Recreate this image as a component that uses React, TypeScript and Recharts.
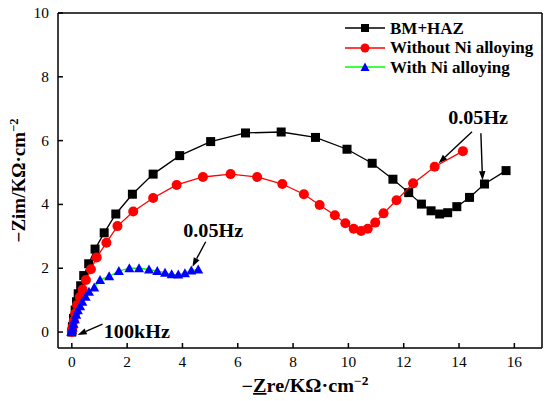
import React from 'react';
import { ScatterChart, Scatter, XAxis, YAxis, Legend, ReferenceLine, ReferenceDot, Label } from 'recharts';

if (typeof document !== 'undefined') document.body.style.margin = '0';

const FONT = '"Liberation Serif", "Times New Roman", serif';

const seriesNames = ['BM+HAZ', 'Without Ni alloying', 'With Ni alloying'];

const bmZre = [0, 0.02, 0.06, 0.12, 0.17, 0.23, 0.32, 0.43, 0.61, 0.84, 1.17, 1.59, 2.19, 2.94, 3.90, 5.02, 6.28, 7.57, 8.81, 9.95, 10.86, 11.61, 12.18, 12.64, 12.99, 13.30, 13.59, 13.92, 14.38, 14.92, 15.70];
const bmZim = [0, 0.17, 0.43, 0.69, 0.95, 1.20, 1.45, 1.77, 2.14, 2.60, 3.11, 3.70, 4.32, 4.95, 5.53, 5.97, 6.24, 6.27, 6.10, 5.73, 5.29, 4.79, 4.37, 4.01, 3.80, 3.70, 3.74, 3.93, 4.22, 4.64, 5.06];

const woZre = [0, 0.03, 0.07, 0.12, 0.19, 0.29, 0.39, 0.51, 0.69, 0.90, 1.25, 1.65, 2.22, 2.94, 3.79, 4.74, 5.74, 6.70, 7.61, 8.39, 8.96, 9.51, 9.89, 10.19, 10.46, 10.70, 10.97, 11.27, 11.74, 12.34, 13.12, 14.14];
const woZim = [0, 0.15, 0.35, 0.58, 0.85, 1.10, 1.33, 1.63, 1.97, 2.34, 2.80, 3.32, 3.78, 4.20, 4.61, 4.86, 4.95, 4.86, 4.64, 4.32, 3.98, 3.66, 3.41, 3.24, 3.17, 3.24, 3.43, 3.72, 4.13, 4.66, 5.18, 5.67];

const niZre = [-0.02, 0.01, 0.03, 0.06, 0.11, 0.16, 0.22, 0.30, 0.38, 0.50, 0.62, 0.81, 1.02, 1.35, 1.70, 2.08, 2.43, 2.79, 3.09, 3.37, 3.61, 3.85, 4.09, 4.32, 4.57];
const niZim = [0, 0.06, 0.14, 0.26, 0.40, 0.54, 0.68, 0.81, 0.95, 1.11, 1.26, 1.40, 1.63, 1.75, 1.91, 2.00, 2.00, 1.96, 1.91, 1.86, 1.81, 1.80, 1.84, 1.93, 1.96];

const xTicks = [0, 2, 4, 6, 8, 10, 12, 14, 16];
const yTicks = [0, 2, 4, 6, 8, 10];

// annotations: [text, textX, textY]
const annotationTexts: [string, number, number][] = [
  ['0.05Hz', 14.69, 6.71],
  ['0.05Hz', 5.11, 3.18],
  ['100kHz', 2.35, 0.0],
];
// arrows: [fromX, fromY, toX, toY]
const arrows: [number, number, number, number][] = [
  [14.47, 6.28, 13.26, 5.29],
  [14.79, 6.23, 14.85, 4.76],
  [4.84, 2.83, 4.36, 2.05],
  [1.11, 0.25, 0.21, -0.09],
];

const toPts = (xs: number[], ys: number[]) => xs.map((x, i) => ({ x, y: ys[i] }));
const bmData = toPts(bmZre, bmZim);
const woData = toPts(woZre, woZim);
const niData = toPts(niZre, niZim);

const SX = 1.12;
const scaleAbout = (x: number, s: number) => `translate(${x},0) scale(${s},1) translate(${-x},0)`;

const Square = (p: any) => <rect x={p.cx - 4.5} y={p.cy - 4.5} width={9} height={9} fill="#000" />;
const Circle = (p: any) => <circle cx={p.cx} cy={p.cy} r={5} fill="#ff0000" />;
const Tri = (p: any) => (
  <polygon points={`${p.cx},${p.cy - 5} ${p.cx - 5},${p.cy + 4} ${p.cx + 5},${p.cy + 4}`} fill="#0000ff" />
);

const Arrow = (p: any) => {
  const { x1, y1, x2, y2 } = p;
  const ang = Math.atan2(y2 - y1, x2 - x1);
  const L = 9, W = 3.2;
  const bx = x2 - L * Math.cos(ang);
  const by = y2 - L * Math.sin(ang);
  const px = -Math.sin(ang) * W;
  const py = Math.cos(ang) * W;
  return (
    <g>
      <line x1={x1} y1={y1} x2={bx} y2={by} stroke="#000" strokeWidth={1.4} />
      <polygon points={`${x2},${y2} ${bx + px},${by + py} ${bx - px},${by - py}`} fill="#000" />
    </g>
  );
};

const legendColors = [
  { line: '#000', marker: 'square' },
  { line: '#ff0000', marker: 'circle' },
  { line: '#00ff00', marker: 'triangle' },
];

const LegendContent = () => (
  <div style={{ fontFamily: FONT, fontWeight: 'bold', fontSize: 17, color: '#000', lineHeight: '19.5px' }}>
    {seriesNames.map((name, i) => (
      <div key={name} style={{ display: 'flex', alignItems: 'center', height: 19.5 }}>
        <svg width={40} height={12} style={{ display: 'block' }}>
          <line x1={0} y1={6} x2={40} y2={6} stroke={legendColors[i].line} strokeWidth={1.4} />
          {legendColors[i].marker === 'square' && <rect x={16} y={2} width={8} height={8} fill="#000" />}
          {legendColors[i].marker === 'circle' && <circle cx={20} cy={6} r={4.5} fill="#ff0000" />}
          {legendColors[i].marker === 'triangle' && <polygon points="20,1.5 15.5,10 24.5,10" fill="#0000ff" />}
        </svg>
        <span style={{ marginLeft: 5, whiteSpace: 'nowrap' }}>{name}</span>
      </div>
    ))}
  </div>
);

const XLabel = (p: any) => {
  const vb = p.viewBox;
  const cx = vb.x + vb.width / 2 + 5;
  return (
    <g transform={scaleAbout(cx, SX)}>
      <text x={cx} y={392} textAnchor="middle" fontFamily={FONT} fontWeight="bold" fontSize={18} fill="#000">
        <tspan>−</tspan>
        <tspan textDecoration="underline">Z</tspan>
        <tspan>re/KΩ·cm</tspan>
        <tspan dy={-7} fontSize={12}>−2</tspan>
      </text>
    </g>
  );
};

const YLabel = (p: any) => {
  const vb = p.viewBox;
  const cy = vb.y + vb.height / 2;
  return (
    <text x={25} y={cy} transform={`rotate(-90, 25, ${cy})`} textAnchor="middle" fontFamily={FONT} fontWeight="bold" fontSize={19} fill="#000">
      <tspan>−Zim/KΩ·cm</tspan>
      <tspan dy={-7} fontSize={12.5}>−2</tspan>
    </text>
  );
};

const XTick = (p: any) => (
  <g transform={`translate(${p.x},${p.y}) scale(1.1,1)`}>
    <text x={0} y={0} dy="0.71em" textAnchor="middle" fontFamily={FONT} fontSize={14} fill="#000">
      {p.payload.value}
    </text>
  </g>
);

const YTick = (p: any) => (
  <g transform={`translate(${p.x},${p.y}) scale(1.1,1)`}>
    <text x={0} y={0} dy="0.355em" textAnchor="end" fontFamily={FONT} fontSize={14} fill="#000">
      {p.payload.value}
    </text>
  </g>
);

export default function App() {
  return (
    <div style={{ width: 550, height: 401, background: '#fff' }}>
      <ScatterChart width={550} height={401} margin={{ top: 13, right: 8, left: 0, bottom: 0 }}>
        <XAxis
          type="number"
          dataKey="x"
          domain={[-0.5, 17]}
          ticks={xTicks}
          allowDataOverflow
          height={53}
          tick={<XTick />}
          tickSize={-5}
          tickMargin={14}
          axisLine={{ stroke: '#000', strokeWidth: 1.5 }}
          tickLine={{ stroke: '#000', strokeWidth: 1.5 }}
        >
          <Label content={<XLabel />} />
        </XAxis>
        <YAxis
          type="number"
          dataKey="y"
          domain={[-0.5, 10]}
          ticks={yTicks}
          allowDataOverflow
          width={58}
          tick={<YTick />}
          tickSize={-5}
          tickMargin={14}
          axisLine={{ stroke: '#000', strokeWidth: 1.5 }}
          tickLine={{ stroke: '#000', strokeWidth: 1.5 }}
        >
          <Label content={<YLabel />} />
        </YAxis>
        <ReferenceLine y={10} stroke="#000" strokeWidth={1.5} />
        <ReferenceLine x={17} stroke="#000" strokeWidth={1.5} />
        <Scatter name={seriesNames[0]} data={bmData} line={{ stroke: '#000', strokeWidth: 1.3 }} shape={<Square />} isAnimationActive={false} />
        <Scatter name={seriesNames[1]} data={woData} line={{ stroke: '#ff0000', strokeWidth: 1.3 }} shape={<Circle />} isAnimationActive={false} />
        <Scatter name={seriesNames[2]} data={niData} line={{ stroke: '#00ff00', strokeWidth: 1.3 }} shape={<Tri />} isAnimationActive={false} />
        {arrows.map((a, i) => (
          <ReferenceLine key={'a' + i} segment={[{ x: a[0], y: a[1] }, { x: a[2], y: a[3] }]} shape={<Arrow />} />
        ))}
        {annotationTexts.map((t, i) => (
          <ReferenceDot
            key={'t' + i}
            x={t[1]}
            y={t[2]}
            r={1}
            shape={(p: any) => (
              <g transform={scaleAbout(p.cx, SX)}>
                <text x={p.cx} y={p.cy} textAnchor="middle" dominantBaseline="central" fontFamily={FONT} fontWeight="bold" fontSize={18} fill="#000">
                  {t[0]}
                </text>
              </g>
            )}
          />
        ))}
        <Legend
          layout="vertical"
          align="center"
          verticalAlign="middle"
          content={<LegendContent />}
          wrapperStyle={{ position: 'absolute', top: 18.5, left: 345, width: 'auto', height: 'auto' }}
        />
      </ScatterChart>
    </div>
  );
}
